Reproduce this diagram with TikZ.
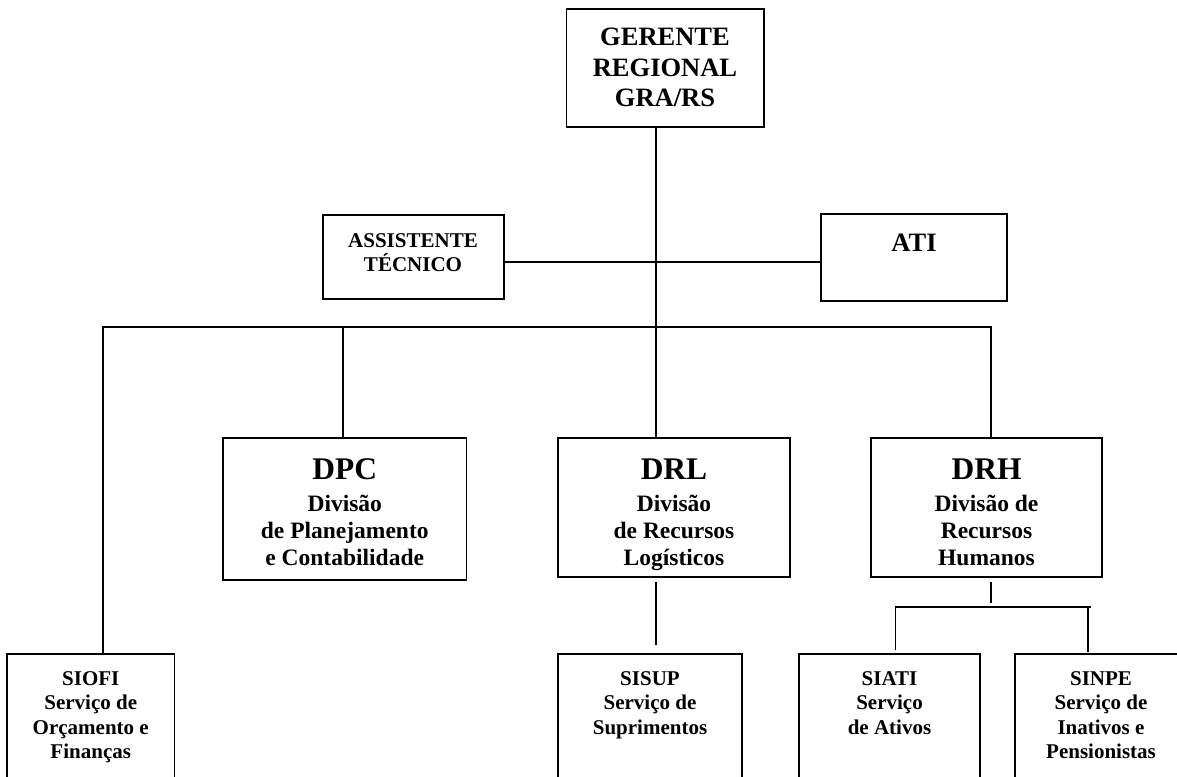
\documentclass[tikz,border=0pt]{standalone}
\usepackage{fontspec}
\setmainfont{Liberation Serif}
\usetikzlibrary{calc}
\newcommand\orgtxt[3]{{\fontsize{#1}{#2}\selectfont\begin{tabular}[t]{@{}c@{}}#3\end{tabular}}}
\begin{document}
\begin{tikzpicture}[x=1pt,y=-1pt,
  box/.style={draw, line width=1.6pt, anchor=north west, inner sep=0pt, outer sep=0pt},
  ln/.style={line width=1.6pt},
  txt/.style={anchor=base, inner sep=0pt, font=\bfseries},
]
\clip (0,0) rectangle (1177,776);
\fill[white] (0,0) rectangle (1177,776);

% boxes
\node[box, minimum width=197.5, minimum height=118] (ger) at (566.5,9) {};
\node[box, minimum width=181, minimum height=84] (asst) at (323,215) {};
\node[box, minimum width=186, minimum height=87] (ati) at (821,214) {};
\node[box, minimum width=243.5, minimum height=142] (dpc) at (223,438) {};
\node[box, minimum width=232, minimum height=139] (drl) at (558,438) {};
\node[box, minimum width=231, minimum height=139] (drh) at (871,438) {};
\node[box, minimum width=167.5, minimum height=140] (siofi) at (7,654) {};
\node[box, minimum width=184, minimum height=140] (sisup) at (558,654) {};
\node[box, minimum width=181, minimum height=140] (siati) at (799,654) {};
\node[box, minimum width=172, minimum height=140] (sinpe) at (1015,654) {};

% junction coordinates
\coordinate (tx) at (656,327);
\coordinate (hx) at (656,262);
\coordinate (bl) at (103,327);
\coordinate (br) at (991,327);
\coordinate (sl) at (895.5,607);
\coordinate (sr) at (1088,607);

% connectors
\draw[ln] (ger.south -| tx) -- (drl.north -| tx);
\draw[ln] (asst.east |- hx) -- (ati.west |- hx);
\draw[ln] (siofi.north -| bl) -- (bl) -- (br) -- (drh.north -| br);
\draw[ln] (dpc.north -| 343,0) -- (tx -| 343,0);
\draw[ln] ($(drl.south -| tx)+(0,5)$) -- ($(sisup.north -| tx)+(0,-9)$);
\draw[ln] ($(drh.south -| br)+(0,5)$) -- ($(drh.south -| br)+(0,26)$);
\draw[ln] ($(siati.north -| sl)+(0,-4)$) |- ($(sr)+(3,0)$);
\draw[ln] (sr) -- ($(sinpe.north -| sr)+(0,-2)$);

% texts
\node[txt] (gerT) at (665,45.5) {\orgtxt{26.5}{30.5}{GERENTE\\REGIONAL\\GRA/RS}};
\node[txt] (asstT) at (413,247) {\orgtxt{21}{23}{ASSISTENTE\\TÉCNICO}};
\node[txt] (atiT) at (914,251) {\orgtxt{26.5}{30}{ATI}};
\node[txt] (dpcH) at (344.75,479) {\orgtxt{31.5}{35}{DPC}};
\node[txt] (dpcB) at (344.75,511) {\orgtxt{23.5}{27}{Divisão\\de Planejamento\\e Contabilidade}};
\node[txt] (drlH) at (674,479) {\orgtxt{31.5}{35}{DRL}};
\node[txt] (drlB) at (674,511) {\orgtxt{23.5}{27}{Divisão\\de Recursos\\Logísticos}};
\node[txt] (drhH) at (986.5,479) {\orgtxt{31.5}{35}{DRH}};
\node[txt] (drhB) at (986.5,511) {\orgtxt{23.5}{27}{Divisão de\\Recursos\\Humanos}};
\node[txt] (siofiT) at (90.75,685) {\orgtxt{21}{24.5}{SIOFI\\Serviço de\\Orçamento e\\Finanças}};
\node[txt] (sisupT) at (650,685) {\orgtxt{21}{24.5}{SISUP\\Serviço de\\Suprimentos}};
\node[txt] (siatiT) at (889.5,685) {\orgtxt{21}{24.5}{SIATI\\Serviço\\de Ativos}};
\node[txt] (sinpeT) at (1101,685) {\orgtxt{21}{24.5}{SINPE\\Serviço de\\Inativos e\\Pensionistas}};
\end{tikzpicture}
\end{document}
